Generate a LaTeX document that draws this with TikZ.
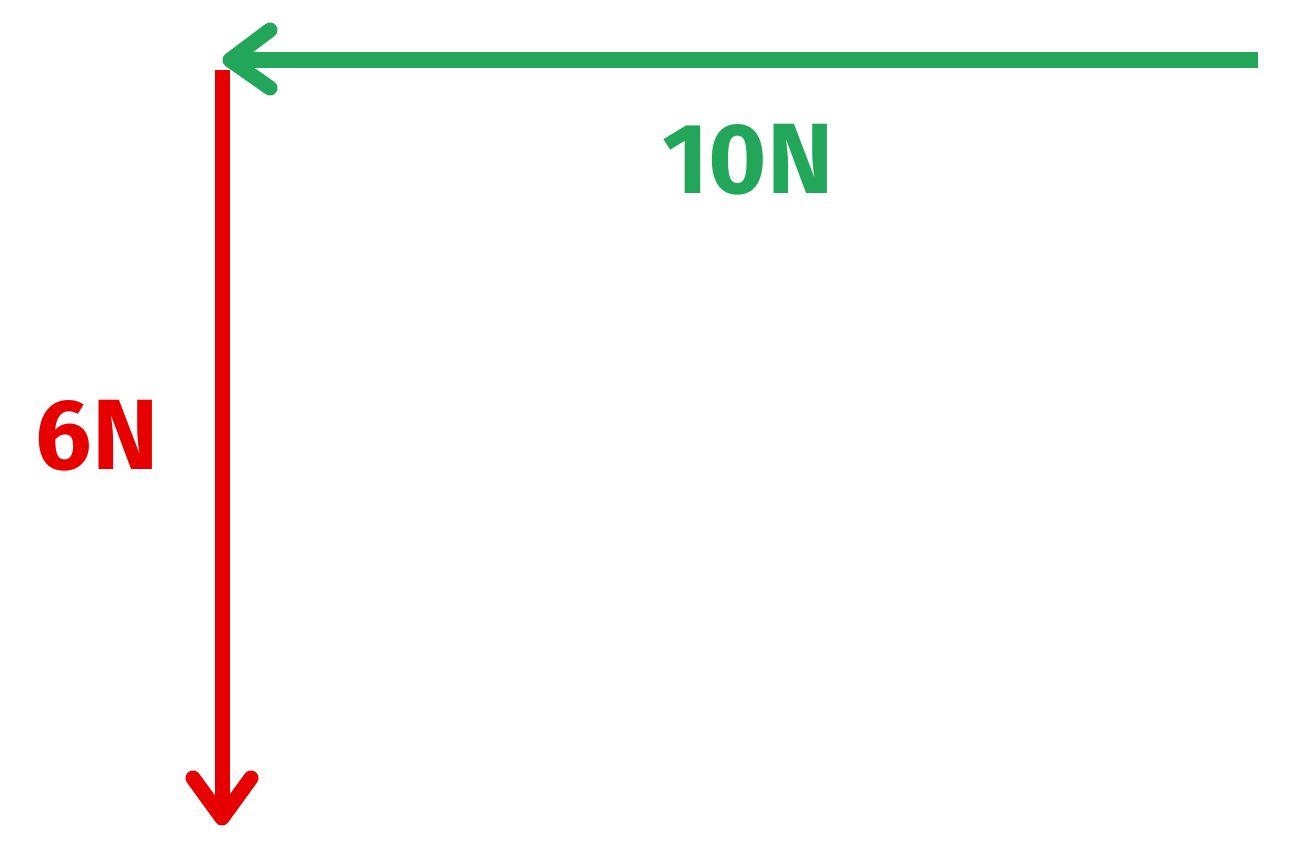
\documentclass[tikz,border=0pt]{standalone}
\usepackage{fontspec}
\setmainfont{Fira Sans}
\definecolor{fgreen}{HTML}{22A65A}
\definecolor{fred}{HTML}{E60000}
\begin{document}
\begin{tikzpicture}[x=1pt,y=-1pt,
  force/.style={line width=15pt},
  chev/.style={line width=15pt,line cap=round,line join=round},
  lab/.style={font=\fontsize{100}{100}\selectfont\bfseries}]
\useasboundingbox (0,0) rectangle (1316,859);
\coordinate (gs) at (1258,60);
\coordinate (gt) at (230,60);
\coordinate (rs) at (222,70);
\coordinate (rt) at (222,818);
\draw[force,fgreen] (gs) -- (gt);
\draw[chev,fgreen] (270,30) -- (gt) -- (270,88);
\draw[force,fred] (rs) -- (rt);
\draw[chev,fred] (193,778) -- (rt) -- (251,778);
\node[lab,text=fgreen] (l10) at (748,160) {10N};
\node[lab,text=fred] (l6) at (97,436) {6N};
\end{tikzpicture}
\end{document}
